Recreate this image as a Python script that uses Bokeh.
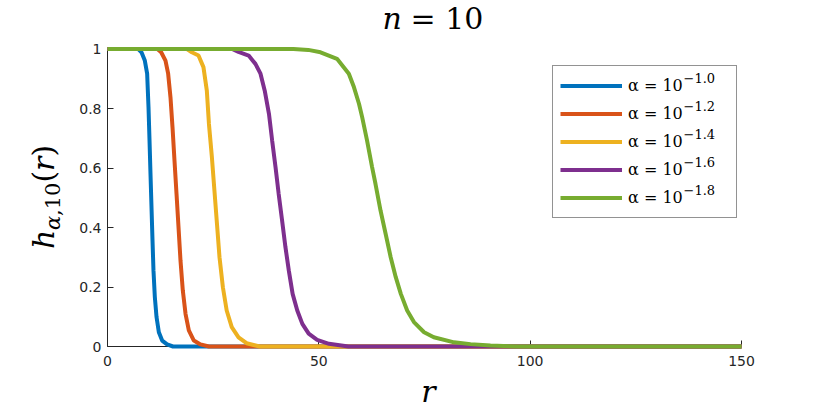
import math
from bokeh.plotting import figure
from bokeh.models import (Range1d, FixedTicker, CustomJSTickFormatter, Label,
                          Legend, LegendItem)
from bokeh.embed import file_html
from bokeh.resources import INLINE

# ---------------- data ----------------
r_a10 = [0, 7.3, 8.04, 8.83, 9.38, 9.70, 9.94, 10.17, 10.41, 10.65, 10.88, 11.2, 11.6, 12.15, 12.93, 14.1, 15.5, 150]
h_a10 = [1, 1, 0.989, 0.961, 0.917, 0.805, 0.693, 0.581, 0.468, 0.356, 0.255, 0.166, 0.099, 0.048, 0.020, 0.007, 0, 0]

r_a12 = [0, 11.8, 12.7, 13.72, 14.35, 14.9, 15.38, 15.85, 16.33, 16.8, 17.27, 17.82, 18.46, 19.24, 20.43, 22.0, 24.0, 150]
h_a12 = [1, 1, 0.989, 0.961, 0.917, 0.838, 0.737, 0.625, 0.513, 0.401, 0.289, 0.188, 0.110, 0.054, 0.020, 0.007, 0, 0]

r_a14 = [0, 18.8, 19.95, 21.53, 22.7, 23.5, 24.0, 24.7, 25.3, 25.9, 26.5, 27.3, 28.2, 29.4, 31.0, 32.9, 36.0, 150]
h_a14 = [1, 1, 0.989, 0.978, 0.939, 0.860, 0.748, 0.636, 0.524, 0.412, 0.300, 0.199, 0.121, 0.065, 0.031, 0.011, 0, 0]

r_a16 = [0, 29.5, 31.0, 33.4, 35.0, 36.2, 37.2, 38.2, 38.96, 39.75, 40.5, 41.3, 42.1, 42.9, 43.8, 44.9, 46.1, 47.6, 49.6, 52.4, 57.0, 150]
h_a16 = [1, 1, 0.99, 0.978, 0.950, 0.917, 0.860, 0.782, 0.692, 0.603, 0.513, 0.424, 0.334, 0.255, 0.177, 0.121, 0.076, 0.043, 0.022, 0.009, 0, 0]

r_a18 = [0, 44.0, 47.5, 50.4, 54.3, 57.1, 58.3, 59.5, 60.25, 61.4, 62.6, 63.4, 64.6, 65.8, 67.0, 68.2, 69.4, 70.9, 72.5, 74.9, 77.2, 82.0, 85.9, 90.6, 97.0, 150]
h_a18 = [1, 1, 0.997, 0.989, 0.967, 0.917, 0.872, 0.816, 0.771, 0.693, 0.603, 0.547, 0.457, 0.379, 0.300, 0.233, 0.177, 0.121, 0.082, 0.048, 0.031, 0.014, 0.008, 0.003, 0, 0]

series_r = [r_a10, r_a12, r_a14, r_a16, r_a18]
series_h = [h_a10, h_a12, h_a14, h_a16, h_a18]
exponents = ["\u22121.0", "\u22121.2", "\u22121.4", "\u22121.6", "\u22121.8"]
colors = ["#0072BD", "#D95319", "#EDB120", "#7E2F8E", "#77AC30"]

x_ticks = [0, 50, 100, 150]
y_ticks = [0, 0.2, 0.4, 0.6, 0.8, 1]

# ---------------- layout (pixels) ----------------
W, H = 822, 413
X0_PX, X150_PX = 107, 741          # pixel position of r = 0 and r = 150
Y0_PX, Y1_PX = 346, 48.5           # pixel position of h = 0 and h = 1
sx = (X150_PX - X0_PX) / 150.0
sy = (Y0_PX - Y1_PX) / 1.0

x_start = -X0_PX / sx
x_end = (W - X0_PX) / sx
y_end = Y0_PX / sy
y_start = (Y0_PX - H) / sy

p = figure(width=W, height=H,
           min_border_left=0, min_border_right=0, min_border_top=0, min_border_bottom=0,
           x_range=Range1d(x_start, x_end), y_range=Range1d(y_start, y_end),
           output_backend="svg", toolbar_location=None)
p.outline_line_color = None
p.xgrid.visible = False
p.ygrid.visible = False
p.background_fill_color = "white"
p.border_fill_color = "white"

axc = "#262626"
for ax in (p.xaxis[0], p.yaxis[0]):
    ax.axis_line_color = axc
    ax.axis_line_width = 1
    ax.major_tick_line_color = axc
    ax.major_tick_in = 6
    ax.major_tick_out = 0
    ax.minor_tick_line_color = None
    ax.major_label_text_color = axc
    ax.major_label_text_font = "DejaVu Sans"
    ax.major_label_text_font_size = "14px"
    ax.fixed_location = 0
    ax.level = "underlay"

p.xaxis.ticker = FixedTicker(ticks=x_ticks)
p.xaxis.bounds = (0, 150)
p.xaxis.major_label_standoff = 9
p.yaxis.ticker = FixedTicker(ticks=y_ticks)
p.yaxis.bounds = (0, 1)
p.yaxis.major_label_standoff = 6
p.yaxis.formatter = CustomJSTickFormatter(code="return String(Math.round(tick*10)/10)")

renderers = []
for r, h, c in zip(series_r, series_h, colors):
    renderers.append(p.line(r, h, line_width=4, line_color=c))

# ---------------- legend ----------------
LEG_LEFT, LEG_BOTTOM = 552, 218
legend = Legend(items=[LegendItem(label="\u03b1 = 10", renderers=[rd]) for rd in renderers],
                location=(LEG_LEFT, H - LEG_BOTTOM))
legend.glyph_width = 62
legend.glyph_height = 25
legend.label_height = 25
legend.label_width = 101
legend.label_standoff = 6
legend.spacing = 3
legend.padding = 7
legend.margin = 0
legend.border_line_color = axc
legend.border_line_width = 1
legend.background_fill_alpha = 0
legend.label_text_font = "DejaVu Serif"
legend.label_text_font_size = "16px"
legend.label_text_color = "black"
p.add_layout(legend, "center")

BASE_SHIFT = 0.33   # em offset of the rendered alphabetic baseline


def lab(text, px, py, size, style="normal", align="left", angle=0.0):
    """Place a text piece whose rendered baseline lies at pixel (px, py)."""
    shift = BASE_SHIFT * size
    if angle == 0.0:
        py = py - shift
    else:
        px = px - shift
    p.add_layout(Label(x=px, y=H - py, x_units="screen", y_units="screen", text=text,
                       angle=angle, text_font="DejaVu Serif", text_font_style=style,
                       text_font_size=f"{size}px", text_color="black",
                       text_align=align, text_baseline="alphabetic", level="overlay"))


# legend exponents (superscripts)
for i, e in enumerate(exponents):
    row_c = 67 + 7 + 12.5 + 28 * i
    lab(e, 683, row_c - 5, 13)

# title: n = 10
lab("n", 382, 28, 30, style="italic")
lab("= 10", 410, 28, 30)

# x label: r
lab("r", 428, 401, 30, style="italic", align="center")

# y label: h_{alpha,10}(r), rotated
ang = math.pi / 2
lab("h", 53, 248.6, 30, style="italic", angle=ang)
lab("\u03b1", 59, 229.4, 21, style="italic", angle=ang)
lab(",10", 59, 215.5, 21, angle=ang)
lab("(", 53, 182.1, 30, angle=ang)
lab("r", 53, 170.4, 30, style="italic", angle=ang)
lab(")", 53, 156.0, 30, angle=ang)

open("out.html", "w").write(file_html(p, INLINE))
